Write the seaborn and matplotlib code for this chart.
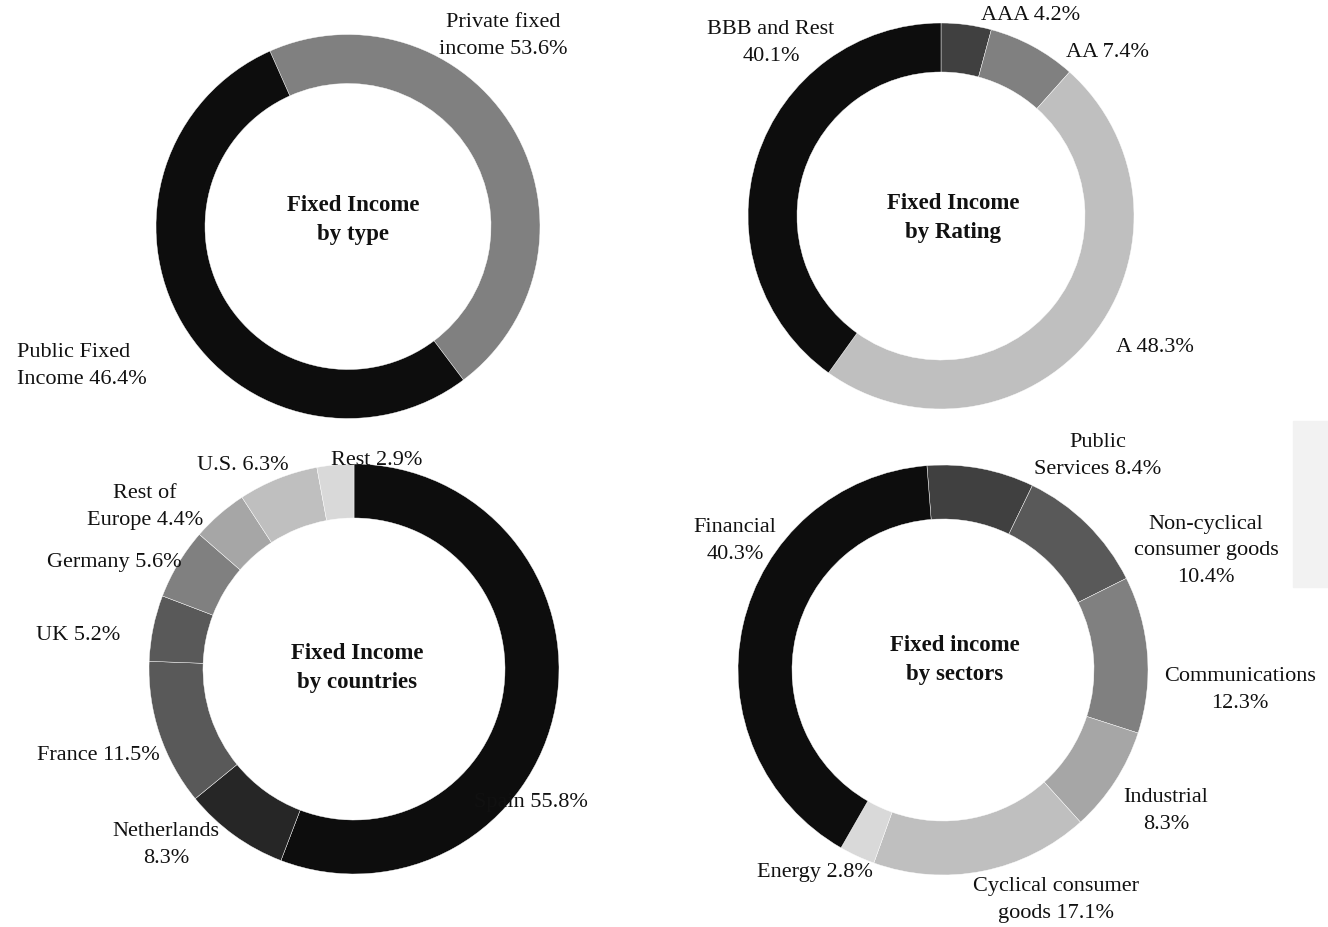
import matplotlib
matplotlib.use("Agg")
import matplotlib.pyplot as plt
import seaborn as sns

# ---- data -------------------------------------------------------------
type_names = ["Public Fixed\nIncome", "Private fixed\nincome"]
type_values = [46.4, 53.6]

rating_names = ["AAA", "AA", "A", "BBB and Rest"]
rating_values = [4.2, 7.4, 48.3, 40.1]

country_names = ["Spain", "Netherlands", "France", "UK", "Germany",
                 "Rest of\nEurope", "U.S.", "Rest"]
country_values = [55.8, 8.3, 11.5, 5.2, 5.6, 4.4, 6.3, 2.9]

sector_names = ["Public\nServices", "Non-cyclical\nconsumer goods",
                "Communications", "Industrial", "Cyclical consumer\ngoods",
                "Energy", "Financial"]
sector_values = [8.4, 10.4, 12.3, 8.3, 17.1, 2.8, 40.3]

titles = ["Fixed Income\nby type", "Fixed Income\nby Rating",
          "Fixed Income\nby countries", "Fixed income\nby sectors"]

# ---- styling ----------------------------------------------------------
sns.set_theme(style="white")
plt.rcParams["font.family"] = ["Liberation Serif", "DejaVu Serif"]

W, H = 1328, 927
fig = plt.figure(figsize=(W / 100, H / 100), dpi=100)
ax = fig.add_axes([0, 0, 1, 1])

def py(y):
    return H - y

def donut(values, colors, center, r_out, r_in, start):
    ax.pie(values, colors=colors, center=(center[0], py(center[1])),
           radius=r_out, startangle=start, counterclock=False,
           wedgeprops=dict(width=r_out - r_in, edgecolor="white",
                           linewidth=0.3))

def label(text, x, y, ha="center"):
    ax.text(x, py(y), text, ha=ha, va="center", multialignment=ha,
            fontsize=16, color="#111111", linespacing=1.55)

def title(text, x, y):
    ax.text(x, py(y), text, ha="center", va="center", fontsize=16.5,
            fontweight="bold", color="#111111", linespacing=1.45)

def fmt(name, value, sep=" "):
    return f"{name}{sep}{value}%"

# Fixed income by type
donut(type_values, ["#808080", "#0d0d0d"], (348, 226.5), 192, 143, 114)
label(fmt(type_names[0], type_values[0]), 17, 366, ha="left")
label(fmt(type_names[1], type_values[1]), 503, 36)
title(titles[0], 353, 220)

# Fixed income by rating
donut(rating_values, ["#404040", "#808080", "#bfbfbf", "#0d0d0d"],
      (941, 216), 193, 144, 90)
label(fmt(rating_names[0], rating_values[0]), 1031, 15)
label(fmt(rating_names[1], rating_values[1]), 1108, 52)
label(fmt(rating_names[2], rating_values[2]), 1155, 347)
label(fmt(rating_names[3], rating_values[3], "\n"), 771, 43)
title(titles[1], 953, 218)

# Fixed income by countries
donut(country_values,
      ["#0d0d0d", "#262626", "#595959", "#595959", "#808080",
       "#a6a6a6", "#bfbfbf", "#d9d9d9"],
      (354, 669), 205, 151, 90)
country_pos = [(531, 803), (166, 845), (98, 755), (78, 636), (114, 562),
               (145, 507), (243, 465), (377, 460)]
country_sep = [" ", "\n", " ", " ", " ", " ", " ", " "]
for n, v, (x, y), s in zip(country_names, country_values, country_pos,
                           country_sep):
    label(fmt(n, v, s), x, y)
title(titles[2], 357, 668)

# Fixed income by sectors
donut(sector_values,
      ["#404040", "#595959", "#808080", "#a6a6a6", "#bfbfbf",
       "#d9d9d9", "#0d0d0d"],
      (943, 670), 205, 151, 94.5)
sector_pos = [(1098, 456), (1206, 551), (1240, 690), (1166, 811),
              (1056, 900), (815, 872), (735, 541)]
sector_sep = [" ", "\n", "\n", "\n", " ", " ", "\n"]
for n, v, (x, y), s in zip(sector_names, sector_values, sector_pos,
                           sector_sep):
    label(fmt(n, v, s), x, y)
title(titles[3], 955, 660)

# pale side panel on the right edge
ax.add_patch(plt.Rectangle((1293, py(587)), 40, 166, color="#f2f2f2",
                           zorder=0))

ax.set_xlim(0, W)
ax.set_ylim(0, H)
ax.set_aspect("equal")
ax.axis("off")
fig.savefig("out.png", dpi=100, facecolor="white")
